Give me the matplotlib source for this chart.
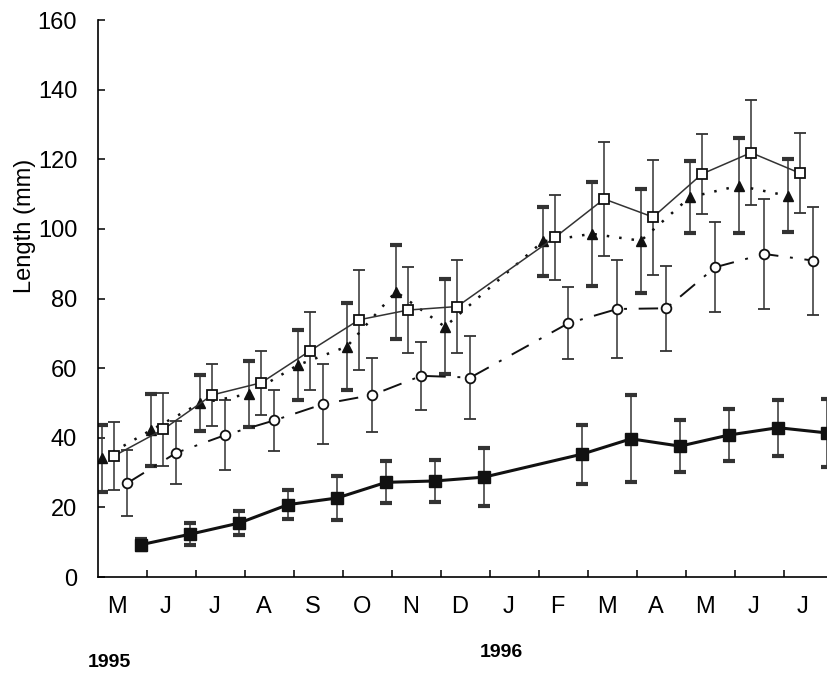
import matplotlib
matplotlib.use("Agg")
import matplotlib.pyplot as plt
from matplotlib import font_manager

# sampling months, counted from May 1995 (0) to July 1996 (14); no January sample
months = [0, 1, 2, 3, 4, 5, 6, 7, 9, 10, 11, 12, 13, 14]
month_labels = ["M", "J", "J", "A", "S", "O", "N", "D",
                "J", "F", "M", "A", "M", "J", "J"]

# mean length (mm) and error for each group
tri_mean = [34.1, 42.2, 49.9, 52.6, 60.9, 66.2, 82.0, 71.9,
            96.4, 98.6, 96.6, 109.1, 112.4, 109.5]
tri_err = [9.7, 10.4, 8.0, 9.4, 10.1, 12.4, 13.5, 13.7,
           10.0, 15.0, 15.0, 10.4, 13.6, 10.5]

osq_mean = [34.8, 42.4, 52.3, 55.8, 65.0, 73.9, 76.7, 77.7,
            97.6, 108.6, 103.4, 115.8, 121.9, 116.0]
osq_err = [9.7, 10.4, 9.0, 9.2, 11.2, 14.3, 12.4, 13.3,
           12.2, 16.5, 16.5, 11.6, 15.0, 11.5]

circ_mean = [27.0, 35.7, 40.8, 45.0, 49.7, 52.3, 57.8, 57.3,
             72.9, 77.0, 77.2, 89.0, 92.8, 90.9]
circ_err = [9.6, 9.0, 10.0, 8.7, 11.6, 10.5, 9.8, 12.0,
            10.4, 14.0, 12.2, 12.9, 15.8, 15.5]

fsq_mean = [9.3, 12.3, 15.5, 20.8, 22.7, 27.2, 27.6, 28.7,
            35.3, 39.7, 37.6, 40.8, 42.9, 41.4]
fsq_err = [1.5, 3.1, 3.5, 4.2, 6.3, 6.0, 6.0, 8.3,
           8.5, 12.5, 7.4, 7.4, 8.0, 9.8]

installed = {f.name for f in font_manager.fontManager.ttflist}
narrow = "Liberation Sans Narrow" if "Liberation Sans Narrow" in installed else "Liberation Sans"
plt.rcParams["font.family"] = [narrow, "DejaVu Sans"]

fig = plt.figure(figsize=(8.27, 6.73), dpi=100)
ax = fig.add_axes([0.1185, 0.1426, 0.8815, 0.8276])

ink = "#111111"
err_kw = dict(ecolor="#333333", elinewidth=1.1, capsize=4.5, capthick=3)


def shifted(offset):
    return [m + offset for m in months]


ax.errorbar(shifted(0.08), tri_mean, yerr=tri_err, fmt="^", ms=7.5,
            color=ink, ls=(0, (1, 4)), lw=1.8, **err_kw)
ax.errorbar(shifted(0.33), osq_mean, yerr=osq_err, fmt="s", ms=7.5,
            mfc="white", mec=ink, mew=1.3, color="#333333", ls="-", lw=1.1,
            **err_kw)
ax.errorbar(shifted(0.6), circ_mean, yerr=circ_err, fmt="o", ms=7,
            mfc="white", mec=ink, mew=1.3, color=ink,
            ls=(0, (10, 6, 1.5, 6)), lw=1.4, **err_kw)
ax.errorbar(shifted(0.88), fsq_mean, yerr=fsq_err, fmt="s", ms=8.5,
            color=ink, ls="-", lw=2.2, **err_kw)

ax.set_xlim(0, 14.88)
ax.set_ylim(0, 160)

for side in ["top", "right"]:
    ax.spines[side].set_visible(False)
ax.spines["left"].set_linewidth(1.2)
ax.spines["bottom"].set_linewidth(1.2)

ax.set_yticks(range(0, 161, 20))
ax.tick_params(axis="y", direction="in", length=5, width=1.1, pad=15,
               labelsize=17)

# month boundaries carry ticks, labels sit inside each month
ax.set_xticks(range(1, 15))
ax.set_xticklabels([])
ax.tick_params(axis="x", which="major", direction="in", length=5, width=1.1)
ax.set_xticks([m + 0.38 for m in range(15)], minor=True)
ax.set_xticklabels(month_labels, minor=True)
ax.tick_params(axis="x", which="minor", length=0, pad=14, labelsize=17)

fig.text(0.03, 0.665, "Length (mm)", rotation=90, ha="center", va="center",
         fontsize=17)
fig.text(0.132, 0.016, "1995", ha="center", va="center", fontsize=14,
         fontweight="bold")
fig.text(0.606, 0.030, "1996", ha="center", va="center", fontsize=14,
         fontweight="bold")

fig.savefig("out.png", dpi=100)
